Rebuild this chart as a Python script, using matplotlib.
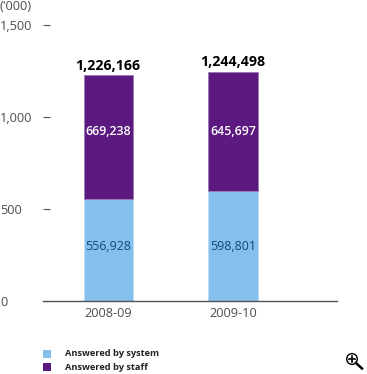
import matplotlib
matplotlib.use('Agg')
import matplotlib.pyplot as plt
from matplotlib.patches import Circle, Rectangle
from matplotlib.lines import Line2D

years = ['2008-09', '2009-10']
by_system = [556.928, 598.801]
by_staff = [669.238, 645.697]
system_labels = ['556,928', '598,801']
staff_labels = ['669,238', '645,697']
total_labels = ['1,226,166', '1,244,498']
y_ticks = [0, 500, 1000, 1500]
y_tick_labels = ['0', '500', '1,000', '1,500']

W, H = 367, 374
BLUE = '#85c0ec'
PURPLE = '#5c1a80'
GREY = '#4d4d4d'

plt.rcParams['font.family'] = ['Open Sans', 'DejaVu Sans']

fig = plt.figure(figsize=(W / 100, H / 100), dpi=100)
ax = fig.add_axes([43 / W, 1 - 301 / H, 294 / W, 276 / H])

x = [0, 1]
ax.bar(x, by_system, width=0.4, color=BLUE, edgecolor='#bcdcf5', linewidth=0.6)
ax.bar(x, by_staff, width=0.4, bottom=by_system, color=PURPLE, edgecolor='#9c78b4', linewidth=0.6)

ax.set_xlim(-0.526, 1.835)
ax.set_ylim(0, 1500)

# the value labels sit at one height across both bars
for i in x:
    total = by_system[i] + by_staff[i]
    ax.text(i, 295, system_labels[i], ha='center', va='center',
            fontsize=8.9, color='#0c4a7c', fontweight='medium')
    ax.text(i, 920, staff_labels[i], ha='center', va='center',
            fontsize=8.9, color='white', fontweight='semibold')
    ax.text(i - 0.006, total + 14, total_labels[i], ha='center', va='bottom',
            fontsize=10.2, color='black', fontweight='bold')

for side in ['top', 'right', 'left']:
    ax.spines[side].set_visible(False)
ax.spines['bottom'].set_color('#555555')
ax.spines['bottom'].set_linewidth(1.0)

ax.set_xticks(x)
ax.set_xticklabels(years, fontsize=9.2, color=GREY)
ax.tick_params(axis='x', length=0, pad=4.5)

ax.set_yticks(y_ticks)
ax.set_yticklabels(y_tick_labels, fontsize=9.2, color=GREY, ha='left')
ax.tick_params(axis='y', direction='in', length=5, width=0.8, color='#555555', pad=31)

fig.text(0 / W, 1 - 7 / H, "('000)", fontsize=9.2, color=GREY, ha='left', va='center')

# legend
for y_px, col, name in [(354, BLUE, 'Answered by system'), (367, PURPLE, 'Answered by staff')]:
    fig.add_artist(Rectangle((43 / W, 1 - (y_px + 4) / H), 8 / W, 8 / H,
                             transform=fig.transFigure, facecolor=col, edgecolor='none'))
    fig.text(65 / W, 1 - y_px / H, name, fontsize=6.7, fontweight='bold',
             color='#222222', ha='left', va='center')

# zoom icon in the corner
sx, sy = 1 / W, 1 / H
cx, cy = 352, 359
fig.add_artist(Circle((cx * sx, 1 - cy * sy), 5.3 / W, transform=fig.transFigure,
                      facecolor='white', edgecolor='black', linewidth=1.0))
fig.add_artist(Line2D([(cx - 3) * sx, (cx + 3) * sx], [1 - cy * sy, 1 - cy * sy],
                      color='black', linewidth=1.2))
fig.add_artist(Line2D([cx * sx, cx * sx], [1 - (cy - 3) * sy, 1 - (cy + 3) * sy],
                      color='black', linewidth=1.2))
fig.add_artist(Line2D([(cx + 4) * sx, (cx + 10) * sx], [1 - (cy + 4) * sy, 1 - (cy + 9.5) * sy],
                      color='black', linewidth=1.8))

fig.savefig('out.png', dpi=100)
